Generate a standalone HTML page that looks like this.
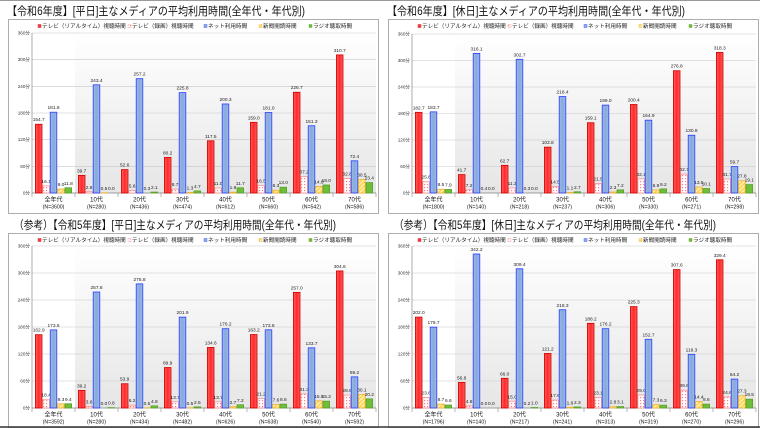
<!DOCTYPE html>
<html><head><meta charset="utf-8"><style>
html,body{margin:0;padding:0;background:#fff;width:760px;height:428px;overflow:hidden}
svg{display:block;font-family:"Liberation Sans","Noto Sans CJK JP",sans-serif}
</style></head><body>
<svg id="s" width="760" height="428" xmlns="http://www.w3.org/2000/svg">
<defs>
<linearGradient id="bg" x1="0" y1="0" x2="0" y2="1"><stop offset="0" stop-color="#ffffff"/><stop offset="1" stop-color="#e6e6e6"/></linearGradient>
<pattern id="pk" width="3" height="3" patternUnits="userSpaceOnUse"><rect width="3" height="3" fill="#fff"/><rect x="1" y="1" width="1.2" height="1.2" fill="#ff8080"/></pattern>
<pattern id="yl" width="3" height="3" patternUnits="userSpaceOnUse" patternTransform="rotate(45)"><rect width="3" height="3" fill="#ffd34d"/><rect width="1.3" height="3" fill="#fff3c0"/></pattern>
<linearGradient id="rd" x1="0" x2="1"><stop offset="0" stop-color="#ff6060"/><stop offset=".5" stop-color="#ff2a2a"/><stop offset="1" stop-color="#ff6060"/></linearGradient>
<linearGradient id="bl" x1="0" x2="1"><stop offset="0" stop-color="#9cbcea"/><stop offset=".5" stop-color="#86a9dc"/><stop offset="1" stop-color="#9cbcea"/></linearGradient>
</defs>
</svg>
<script>
var NS="http://www.w3.org/2000/svg",S=document.getElementById("s");
function el(t,a,txt){var e=document.createElementNS(NS,t);for(var k in a)e.setAttribute(k,a[k]);if(txt!=null)e.textContent=txt;S.appendChild(e);return e;}
var cats=["全年代","10代","20代","30代","40代","50代","60代","70代"];
var panels=[
{ox:0,oy:0,top:33,bot:193,title:"【令和6年度】[平日]主なメディアの平均利用時間(全年代・年代別)",tx:7,tl:298,
N:[3600,280,436,474,612,660,542,586],
d:[[154.7,16.1,181.8,9.0,11.8],[39.7,2.8,243.4,0.5,0.0],[52.6,5.6,257.2,0.3,2.1],[80.2,8.7,225.8,1.3,4.7],[117.5,11.0,200.3,1.9,11.7],[159.0,16.5,181.0,6.3,13.0],[226.7,37.2,151.3,14.8,18.0],[310.7,32.8,72.4,30.5,23.4]]},
{ox:380,oy:0,top:34,bot:193,title:"【令和6年度】[休日]主なメディアの平均利用時間(全年代・年代別)",tx:7,tl:298,
N:[1800,140,218,237,306,330,271,298],
d:[[182.7,25.6,183.7,8.5,7.9],[41.7,7.2,316.1,0.4,0.0],[62.7,11.3,302.7,0.3,0.0],[103.8,14.5,218.4,1.1,2.7],[159.1,21.5,199.0,2.3,7.2],[200.4,32.1,164.9,6.8,9.2],[276.8,42.7,130.8,13.5,10.1],[318.3,31.7,59.7,27.8,19.1]]},
{ox:0,oy:214,top:246,bot:408,title:"（参考）【令和5年度】[平日]主なメディアの平均利用時間(全年代・年代別)",tx:14,tl:322,
N:[3592,280,434,482,626,638,540,592],
d:[[162.9,18.4,173.6,9.3,9.4],[39.2,3.6,257.8,0.0,0.8],[53.9,6.2,275.8,0.5,4.8],[89.9,13.7,201.9,0.5,2.5],[134.6,13.7,176.2,2.7,7.2],[163.2,21.2,173.8,7.6,8.6],[257.0,31.3,133.7,15.9,15.2],[304.6,28.6,69.2,30.1,20.2]]},
{ox:380,oy:214,top:246,bot:408,title:"（参考）【令和5年度】[休日]主なメディアの平均利用時間(全年代・年代別)",tx:14,tl:322,
N:[1796,140,217,241,313,319,270,296],
d:[[202.0,23.6,179.7,8.7,6.6],[56.8,4.6,342.2,0.0,0.0],[66.0,15.0,309.4,0.2,1.0],[121.2,17.6,218.3,1.6,2.3],[188.2,23.1,176.2,2.8,3.1],[225.3,29.0,152.7,7.3,6.3],[307.6,39.6,119.3,14.4,8.6],[329.4,24.6,64.2,27.3,19.5]]}
];
var fills=["url(#rd)","url(#pk)","url(#bl)","url(#yl)","#6dbf3a"];
var strokes=["#d00000","#ff9090","#2a3cff","#f0b030","#5aa02a"];
var legs=["テレビ（リアルタイム）視聴時間","テレビ（録画）視聴時間","ネット利用時間","新聞閲読時間","ラジオ聴取時間"];
var legx=[38,128,204,259,309];
panels.forEach(function(p){
  var ox=p.ox,oy=p.oy,x0=ox+32,x1=ox+376,top=p.top,bot=p.bot,gw=(x1-x0)/8,sc=(bot-top)/360;
  el("text",{x:ox+p.tx,y:oy+15,"font-size":11.5,fill:"#111",textLength:p.tl,lengthAdjust:"spacingAndGlyphs"},p.title);
  el("rect",{x:ox+8.5,y:oy+19.5,width:370,height:194,fill:"#fff",stroke:"#999","stroke-width":0.8});
  el("rect",{x:x0+gw,y:top,width:x1-x0-gw,height:bot-top,fill:"url(#bg)"});
  for(var i=0;i<=6;i++){var y=bot-i*60*sc;
    el("line",{x1:x0,x2:x1,y1:y,y2:y,stroke:"#c8c8c8","stroke-width":0.6});
    el("text",{x:x0-2,y:y+1.5,"font-size":4.6,"text-anchor":"end",fill:"#333"},(i*60)+"分");}
  el("line",{x1:x0,x2:x0,y1:top,y2:bot,stroke:"#888","stroke-width":0.7});
  el("line",{x1:x0,x2:x1,y1:bot,y2:bot,stroke:"#888","stroke-width":0.7});
  for(var g=0;g<=8;g++){var gx=x0+g*gw;el("line",{x1:gx,x2:gx,y1:bot,y2:bot+4,stroke:"#888","stroke-width":0.6});}
  for(var k=0;k<5;k++){
    var lx=ox+legx[k];
    el("rect",{x:lx,y:oy+24.5,width:3,height:3,fill:fills[k],stroke:strokes[k],"stroke-width":0.4});
    el("text",{x:lx+4,y:oy+28.2,"font-size":5.6,fill:"#222"},legs[k]);
  }
  p.d.forEach(function(v,g){
    var gx=x0+g*gw;
    for(var k=0;k<5;k++){
      var bx=gx+3+k*7.4,h=v[k]*sc;
      if(h>0.2)el("rect",{x:bx+0.4,y:bot-h,width:6.6,height:h,fill:fills[k],stroke:strokes[k],"stroke-width":0.8});
      el("text",{x:bx+3.7,y:bot-h-3,"font-size":4.8,"text-anchor":"middle",fill:"#222"},v[k].toFixed(1));
    }
    el("text",{x:gx+gw/2,y:bot+8.5,"font-size":6,"text-anchor":"middle",fill:"#111"},cats[g]);
    el("text",{x:gx+gw/2,y:bot+15.5,"font-size":5.2,"text-anchor":"middle",fill:"#111"},"(N="+p.N[g]+")");
  });
});
el("line",{x1:0,x2:760,y1:0.5,y2:0.5,stroke:"#999","stroke-width":1});
el("line",{x1:0,x2:760,y1:427,y2:427,stroke:"#333","stroke-width":1.5});
</script>
</body></html>
